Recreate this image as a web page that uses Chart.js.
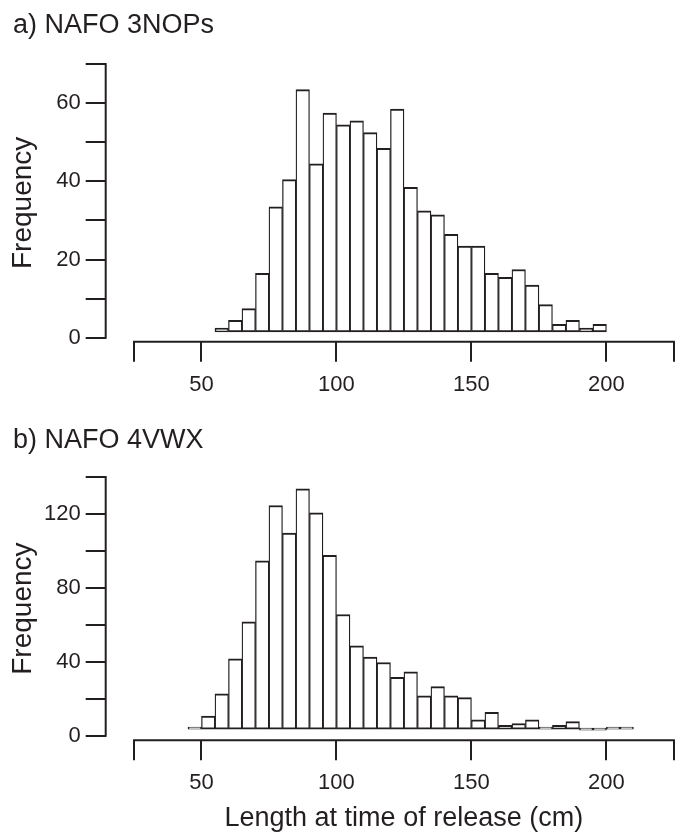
<!DOCTYPE html>
<html>
<head>
<meta charset="utf-8">
<script src="https://cdn.jsdelivr.net/npm/chart.js@4.4.1/dist/chart.umd.min.js"></script>
<style>
  html, body { margin: 0; background: #fff; overflow: hidden; }
  #wrap { position: relative; width: 675px; height: 833px; overflow: hidden; }
  canvas { position: absolute; left: 0; }
</style>
</head>
<body>
<div id="wrap">
  <canvas id="panelA" width="703" height="410" style="top:0"></canvas>
  <canvas id="panelB" width="703" height="423" style="top:410px"></canvas>
</div>
<script>
// a) NAFO 3NOPs - 5 cm bins (midpoints) and counts
const lengthA = [57.5, 62.5, 67.5, 72.5, 77.5, 82.5, 87.5, 92.5, 97.5, 102.5, 107.5, 112.5, 117.5, 122.5, 127.5,
  132.5, 137.5, 142.5, 147.5, 152.5, 157.5, 162.5, 167.5, 172.5, 177.5, 182.5, 187.5, 192.5, 197.5];
const countA = [1, 3, 6, 15, 32, 39, 62, 43, 56, 53, 54, 51, 47, 57, 37,
  31, 30, 25, 22, 22, 15, 14, 16, 12, 7, 2, 3, 1, 2];

// b) NAFO 4VWX
const lengthB = [47.5, 52.5, 57.5, 62.5, 67.5, 72.5, 77.5, 82.5, 87.5, 92.5, 97.5, 102.5, 107.5, 112.5, 117.5, 122.5,
  127.5, 132.5, 137.5, 142.5, 147.5, 152.5, 157.5, 162.5, 167.5, 172.5, 177.5, 182.5, 187.5, 192.5, 197.5, 202.5, 207.5];
const countB = [1, 7, 19, 38, 58, 91, 121, 106, 130, 117, 94, 62, 45, 39, 36, 28,
  31, 18, 23, 18, 17, 5, 9, 2, 3, 5, 1, 2, 4, 0, 0, 1, 1];

const xTicks = [25, 50, 100, 150, 200, 225];
const xTickLabels = ['', '50', '100', '150', '200', ''];
const yTicksA = [0, 10, 20, 30, 40, 50, 60, 70];
const yTickLabelsA = ['0', '', '20', '', '40', '', '60', ''];
const yTicksB = [0, 20, 40, 60, 80, 100, 120, 140];
const yTickLabelsB = ['0', '', '40', '', '80', '', '120', ''];

const INK = '#231f20';
const FONT = "'Liberation Sans', Arial, Helvetica, sans-serif";

// axis lines only span first..last tick (R style, detached axes)
const axisLines = {
  id: 'axisLines',
  afterDraw(chart) {
    const { ctx, chartArea } = chart, x = chart.scales.x, y = chart.scales.y;
    const xt = x.ticks, yt = y.ticks;
    ctx.save();
    ctx.strokeStyle = INK; ctx.lineWidth = 2; ctx.lineCap = 'square';
    ctx.beginPath();
    ctx.moveTo(chartArea.left, y.getPixelForValue(yt[0].value));
    ctx.lineTo(chartArea.left, y.getPixelForValue(yt[yt.length - 1].value));
    ctx.moveTo(x.getPixelForValue(xt[0].value), chartArea.bottom);
    ctx.lineTo(x.getPixelForValue(xt[xt.length - 1].value), chartArea.bottom);
    ctx.stroke();
    ctx.restore();
  }
};

function makePanel(id, p) {
  const yMax = p.yTicks[p.yTicks.length - 1];
  return new Chart(document.getElementById(id), {
    type: 'bar',
    data: {
      datasets: [{
        data: p.lengths.map((v, i) => ({ x: v, y: p.counts[i] })),
        xAxisID: 'x', yAxisID: 'yBars',
        backgroundColor: '#fff', borderColor: INK,
        borderWidth: { top: 2, bottom: 2, left: 1.3, right: 1.3 }, borderSkipped: false,
        barPercentage: 1, categoryPercentage: 1, minBarLength: 2
      }]
    },
    options: {
      responsive: false, animation: false, devicePixelRatio: 1,
      layout: { padding: { left: 13, right: 1, top: 0, bottom: 0 } },
      plugins: {
        legend: { display: false }, tooltip: { enabled: false },
        title: { display: true, text: p.title, align: 'start', color: INK,
          font: { family: FONT, size: 27, weight: 'normal' }, padding: p.titlePad }
      },
      scales: {
        // plot region runs a little past the canvas edge, as in the R figure
        x: {
          type: 'linear', position: 'bottom', min: 14.52, max: 235.4, offset: false, bounds: 'data',
          afterBuildTicks: s => { s.ticks = xTicks.map(v => ({ value: v })); },
          afterFit: s => { s.height = p.xHeight; },
          grid: { drawOnChartArea: false, drawTicks: true, tickLength: 20, color: INK, lineWidth: 2, offset: false },
          border: { display: false },
          ticks: { color: INK, font: { family: FONT, size: 22 }, padding: 10, autoSkip: false, maxRotation: 0,
            callback: (v, i) => xTickLabels[i] },
          title: { display: !!p.xTitle, text: p.xTitle || '', color: INK,
            font: { family: FONT, size: 27, lineHeight: 0.8 }, padding: { top: 0, bottom: 4 } }
        },
        y: {
          type: 'linear', position: 'left', min: p.yMin, max: yMax, bounds: 'data',
          afterBuildTicks: s => { s.ticks = p.yTicks.map(v => ({ value: v })); },
          afterFit: s => { s.width = 92.7; },
          grid: { drawOnChartArea: false, drawTicks: true, tickLength: 20, color: INK, lineWidth: 2 },
          border: { display: false },
          ticks: { color: INK, font: { family: FONT, size: 22 }, padding: 5, autoSkip: false,
            callback: (v, i) => p.yLabels[i] },
          title: { display: true, text: 'Frequency', color: INK,
            font: { family: FONT, size: 28, lineHeight: 0.72 }, padding: 0 }
        },
        // bars sit a few px above the axis zero in the original figure
        yBars: {
          type: 'linear', display: false, bounds: 'data',
          min: p.yMin - p.barShift, max: yMax - p.barShift
        }
      }
    },
    plugins: [axisLines]
  });
}

makePanel('panelA', {
  title: 'a) NAFO 3NOPs', titlePad: { top: 9.7, bottom: 21.9 },
  lengths: lengthA, counts: countA,
  yTicks: yTicksA, yLabels: yTickLabelsA, yMin: -1.02, barShift: 1.45,
  xHeight: 68.3
});

makePanel('panelB', {
  title: 'b) NAFO 4VWX', titlePad: { top: 14.8, bottom: 19.8 },
  lengths: lengthB, counts: countB,
  yTicks: yTicksB, yLabels: yTickLabelsB, yMin: -2.43, barShift: 3.6,
  xHeight: 92.8, xTitle: 'Length at time of release (cm)'
});
</script>
</body>
</html>
